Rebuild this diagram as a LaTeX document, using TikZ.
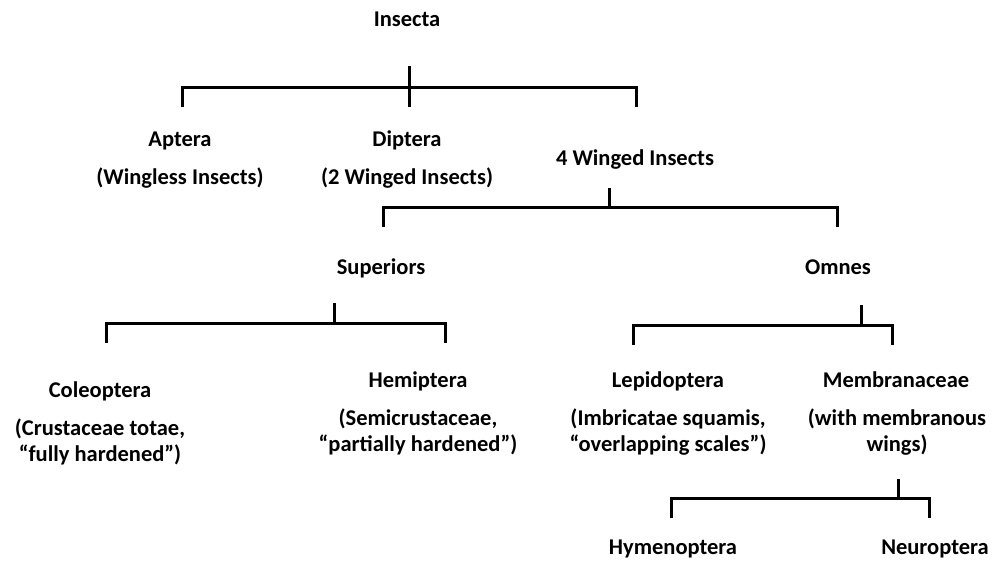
\documentclass[tikz,border=0pt]{standalone}
\usepackage{fontspec}
\setmainfont{Carlito}
\usepackage{tikz}
\tikzset{
  taxon/.style={font=\bfseries\fontsize{22.5}{26}\selectfont, inner sep=0pt, anchor=base
  },
  gloss/.style={taxon, align=center
  },
  branch/.style={line width=3pt
  }
}

\begin{document}
\begin{tikzpicture}[x=1pt,y=-1pt]
   \useasboundingbox (0,0) rectangle (992,560);

   \node[taxon] (insecta) at (407,26) {Insecta};
   \node[taxon] (aptera) at (180,146) {Aptera};
   \node[gloss] (wingless) at (180,184) {(Wingless Insects)};
   \node[taxon] (diptera) at (407,146) {Diptera};
   \node[gloss] (twowing) at (407,184) {(2 Winged Insects)};
   \node[taxon] (fourwing) at (635,165) {4 Winged Insects};
   \node[taxon] (superiors) at (381,274) {Superiors};
   \node[taxon] (omnes) at (838,274) {Omnes};
   \node[taxon] (coleo) at (100,397) {Coleoptera};
   \node[gloss] (coleogl) at (100,461) {(Crustaceae totae,\\“fully hardened”)};
   \node[taxon] (hemi) at (418,387) {Hemiptera};
   \node[gloss] (hemigl) at (418,451) {(Semicrustaceae,\\“partially hardened”)};
   \node[taxon] (lepi) at (668,387) {Lepidoptera};
   \node[gloss] (lepigl) at (668,451) {(Imbricatae squamis,\\“overlapping scales”)};
   \node[taxon] (membr) at (896,387) {Membranaceae};
   \node[gloss] (membrgl) at (897,451) {(with membranous\\wings)};
   \node[taxon] (hymeno) at (673,554) {Hymenoptera};
   \node[taxon] (neuro) at (935,554) {Neuroptera};

   % Insecta
   \coordinate (root1) at (409,66);
   \coordinate (leg1a) at (182,107);
   \coordinate (leg1b) at (636,107);
   \draw[branch] (leg1a) -- ++(0,-20) -| (leg1b);
   \draw[branch] (root1) -- (root1 |- leg1a);

   % 4 winged
   \coordinate (root2) at (609,188);
   \coordinate (leg2a) at (383,227);
   \coordinate (leg2b) at (837,227);
   \draw[branch] (leg2a) -- ++(0,-20) -| (leg2b);
   \draw[branch] (root2) -- ++(0,20);

   % Superiors
   \coordinate (root3) at (334,303);
   \coordinate (leg3a) at (106,343);
   \coordinate (leg3b) at (445,343);
   \draw[branch] (leg3a) -- ++(0,-20) -| (leg3b);
   \draw[branch] (root3) -- ++(0,20);

   % Omnes
   \coordinate (root4) at (861,305);
   \coordinate (leg4a) at (633,345);
   \coordinate (leg4b) at (892,345);
   \draw[branch] (leg4a) -- ++(0,-20) -| (leg4b);
   \draw[branch] (root4) -- ++(0,20);

   % Membranaceae
   \coordinate (root5) at (898,479);
   \coordinate (leg5a) at (671,518);
   \coordinate (leg5b) at (929,518);
   \draw[branch] (leg5a) -- ++(0,-20) -| (leg5b);
   \draw[branch] (root5) -- ++(0,19);
\end{tikzpicture}
\end{document}
